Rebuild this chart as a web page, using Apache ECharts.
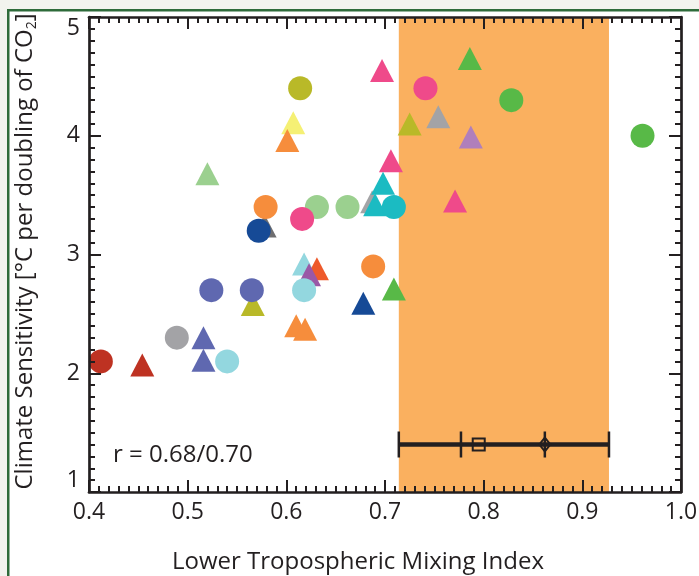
<!DOCTYPE html>
<html>
<head>
<meta charset="utf-8">
<script src="https://cdn.jsdelivr.net/npm/echarts@6/dist/echarts.min.js"></script>
<style>
  html, body { margin: 0; padding: 0; background: #F2F3EE; }
  #chart { width: 699px; height: 576px; }
</style>
</head>
<body>
<div id="chart"></div>
<script>
// ---------- data ----------
// x = lower tropospheric mixing index, y = climate sensitivity (°C per doubling of CO2)
const ptX = [
  0.454, 0.516, 0.516, 0.566, 0.520, 0.578, 0.607, 0.601, 0.697, 0.725,
  0.706, 0.687, 0.698, 0.690, 0.618, 0.631, 0.623, 0.678, 0.709, 0.610,
  0.619, 0.786, 0.754, 0.787, 0.771,
  0.412, 0.489, 0.540, 0.524, 0.565, 0.579, 0.572, 0.631, 0.662, 0.616,
  0.709, 0.618, 0.688, 0.614, 0.741, 0.828, 0.961
];
const ptY = [
  2.07, 2.30, 2.11, 2.58, 3.68, 3.24, 4.11, 3.96, 4.55, 4.10,
  3.79, 3.445, 3.60, 3.42, 2.92, 2.88, 2.83, 2.59, 2.71, 2.40,
  2.37, 4.65, 4.16, 3.99, 3.45,
  2.10, 2.30, 2.10, 2.70, 2.70, 3.40, 3.20, 3.40, 3.40, 3.30,
  3.40, 2.70, 2.90, 4.40, 4.40, 4.30, 4.00
];
const ptShape = [
  'triangle','triangle','triangle','triangle','triangle','triangle','triangle','triangle','triangle','triangle',
  'triangle','triangle','triangle','triangle','triangle','triangle','triangle','triangle','triangle','triangle',
  'triangle','triangle','triangle','triangle','triangle',
  'circle','circle','circle','circle','circle','circle','circle','circle','circle','circle',
  'circle','circle','circle','circle','circle','circle','circle'
];
const ptGroup = [
  'darkred','periwinkle','periwinkle','olive','lightgreen','darkgray','yellow','orange','pink','olive',
  'pink','gray','teal','teal','lightcyan','orangered','purple','navy','green','orange',
  'orange','green','gray','lightpurple','pink',
  'darkred','gray','lightcyan','periwinkle','periwinkle','orange','navy','lightgreen','lightgreen','pink',
  'teal','lightcyan','orange','olive','pink','green','green'
];
const bandRange = [0.714, 0.927];
const errY = 1.4;
const errCaps = [0.714, 0.777, 0.862, 0.927];
const errSquareX = 0.795;
const errDiamondX = 0.862;
const corrText = 'r = 0.68/0.70';
const xLabelName = 'Lower Tropospheric Mixing Index';

// ---------- styles ----------
const palette = {
  darkred: '#BE3222', gray: '#A3A3A6', periwinkle: '#5F68B0', lightcyan: '#93D7DF',
  olive: '#B9B928', lightgreen: '#9BD08F', orange: '#F68D3C', darkgray: '#6E6E70',
  navy: '#164A96', pink: '#EF4A8A', teal: '#1BBBC2', orangered: '#EE5A2B',
  purple: '#9A58A6', green: '#58B947', yellow: '#F5F074', lightpurple: '#B07FBB'
};
const FONT = '"Open Sans", "Liberation Sans", sans-serif';
const INK = '#231F20';

const points = ptX.map((x, i) => ({
  value: [x, ptY[i]],
  symbol: ptShape[i],
  symbolSize: ptShape[i] === 'circle' ? 24 : [24, 23],
  itemStyle: { color: palette[ptGroup[i]], opacity: 1 }
}));

function axisBase(pos, showLabel) {
  return {
    type: 'value',
    position: pos,
    z: 10,
    axisLine: { show: true, onZero: false, lineStyle: { color: INK, width: 2.7 } },
    axisTick: { show: true, inside: true, length: 12, lineStyle: { color: INK, width: 2 } },
    minorTick: { show: true, splitNumber: 10, length: 6, lineStyle: { color: INK, width: 2 } },
    splitLine: { show: false },
    minorSplitLine: { show: false },
    axisLabel: { show: showLabel, fontSize: 23, color: INK, fontFamily: FONT, margin: 9 }
  };
}

const xMain = Object.assign(axisBase('bottom', true), {
  min: 0.4, max: 1.0, interval: 0.1,
  name: xLabelName, nameLocation: 'middle', nameGap: 58,
  nameTextStyle: { fontSize: 24, color: INK, fontFamily: FONT, padding: [0, 54, 0, 0] }
});
xMain.axisLabel.formatter = v => v.toFixed(1);
const xTop = Object.assign(axisBase('top', false), { min: 0.4, max: 1.0, interval: 0.1 });

const yMain = Object.assign(axisBase('left', true), {
  min: 1, max: 5, interval: 1,
  name: 'Climate Sensitivity [°C per doubling of CO{sub|2}]',
  nameLocation: 'middle', nameGap: 50,
  nameTextStyle: {
    fontSize: 24, color: INK, fontFamily: FONT, padding: [0, 0, 0, 6],
    rich: { sub: { fontSize: 14, color: INK, fontFamily: FONT, padding: [14, 0, 0, 0] } }
  }
});
yMain.axisLabel.formatter = v => String(v);
yMain.axisLabel.verticalAlignMinLabel = 'bottom';
yMain.axisLabel.verticalAlignMaxLabel = 'top';
const yRight = Object.assign(axisBase('right', false), { min: 1, max: 5, interval: 1 });

const chart = echarts.init(document.getElementById('chart'), null, { renderer: 'canvas' });
chart.setOption({
  animation: false,
  backgroundColor: '#F2F3EE',
  grid: { left: 89, right: 18, top: 17, bottom: 84, containLabel: false, outerBoundsMode: 'none' },
  graphic: [
    { type: 'rect', z: -10, shape: { x: 9, y: 11, width: 700, height: 580 }, style: { fill: '#FFFFFF' } },
    { type: 'rect', z: -9, shape: { x: 7, y: 9, width: 700, height: 2.5 }, style: { fill: '#2E6B3A' } },
    { type: 'rect', z: -9, shape: { x: 7, y: 9, width: 2.5, height: 580 }, style: { fill: '#2E6B3A' } },
    { type: 'text', z: 20, left: 113, top: 443,
      style: { text: corrText, fontSize: 24, fill: INK, fontFamily: FONT } }
  ],
  xAxis: [xMain, xTop],
  yAxis: [yMain, yRight],
  series: [
    {
      type: 'scatter', data: [], z: 1, silent: true,
      markArea: {
        silent: true,
        itemStyle: { color: '#FAB05F', opacity: 1 },
        data: [[{ xAxis: bandRange[0] }, { xAxis: bandRange[1] }]]
      }
    },
    { type: 'scatter', data: points, z: 3 },
    {
      type: 'line', z: 4, symbol: 'none',
      data: [[bandRange[0], errY], [bandRange[1], errY]],
      lineStyle: { color: INK, width: 4.5 }
    },
    {
      type: 'scatter', z: 5, symbol: 'rect', symbolSize: [2.5, 26],
      data: errCaps.map(x => [x, errY]),
      itemStyle: { color: INK, opacity: 1 }
    },
    {
      type: 'scatter', z: 6, symbol: 'rect', symbolSize: 12,
      data: [[errSquareX, errY]],
      itemStyle: { color: 'rgba(0,0,0,0)', borderColor: INK, borderWidth: 2, opacity: 1 }
    },
    {
      type: 'scatter', z: 6, symbol: 'diamond', symbolSize: [11, 14],
      data: [[errDiamondX, errY]],
      itemStyle: { color: 'rgba(0,0,0,0)', borderColor: INK, borderWidth: 2, opacity: 1 }
    }
  ]
});
</script>
</body>
</html>
